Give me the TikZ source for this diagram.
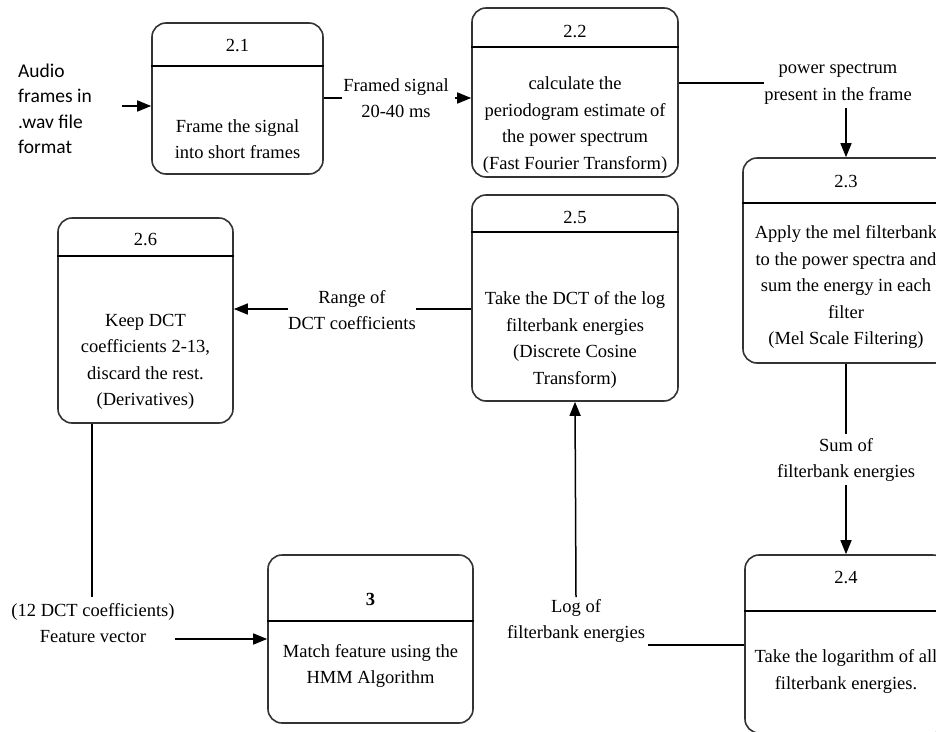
\documentclass[tikz,border=0pt]{standalone}
\usepackage{fontspec}
\setmainfont{Liberation Serif}
\newfontfamily\audiofont{Carlito}
\usetikzlibrary{arrows.meta}
\tikzset{
  procbox/.style={draw=black!80, line width=1.6pt, rounded corners=14pt, inner sep=0pt, fill=white},
  divider/.style={draw=black, line width=1.4pt},
  txt/.style={font=\fontsize{18.5}{26.5}\selectfont, align=center, inner sep=0pt},
  flow/.style={draw=black, line width=1.5pt},
  arr/.style={flow, -{Triangle[length=14pt,width=11pt]}},
}
\begin{document}
\begin{tikzpicture}[x=1pt,y=-1pt]
\useasboundingbox (0,0) rectangle (936,731);
\clip (0,0) rectangle (936,731);
\fill[white] (0,0) rectangle (936,731);

% process boxes
\node[procbox, minimum width=171pt, minimum height=151pt] (b21) at (237.5,98.5) {};
\node[procbox, minimum width=206pt, minimum height=169pt] (b22) at (575,92.5) {};
\node[procbox, minimum width=206pt, minimum height=205pt] (b23) at (846,260.5) {};
\node[procbox, minimum width=202pt, minimum height=178pt] (b24) at (846,644) {};
\node[procbox, minimum width=206pt, minimum height=206pt] (b25) at (575,298) {};
\node[procbox, minimum width=175pt, minimum height=205pt] (b26) at (145.5,320.5) {};
\node[procbox, minimum width=205pt, minimum height=168pt] (b3) at (370.5,639) {};

% dividers
\draw[divider] (b21.west |- 0,66) -- (b21.east |- 0,66);
\draw[divider] (b22.west |- 0,47) -- (b22.east |- 0,47);
\draw[divider] (b23.west |- 0,203) -- (b23.east |- 0,203);
\draw[divider] (b24.west |- 0,611) -- (b24.east |- 0,611);
\draw[divider] (b25.west |- 0,232) -- (b25.east |- 0,232);
\draw[divider] (b26.west |- 0,256) -- (b26.east |- 0,256);
\draw[divider] (b3.west |- 0,621) -- (b3.east |- 0,621);

% numbers
\node[txt] (n21) at (237.5,46) {2.1};
\node[txt] (n22) at (575,32) {2.2};
\node[txt] (n23) at (846,182) {2.3};
\node[txt] (n24) at (846,577) {2.4};
\node[txt] (n25) at (575,218) {2.5};
\node[txt] (n26) at (145.5,240) {2.6};
\node[txt, font=\fontsize{18.5}{26.5}\selectfont\bfseries] (n3) at (370.5,599) {3};

% bodies
\node[txt] (t21) at (237.5,139) {Frame the signal\\into short frames};
\node[txt] (t22) at (575,125) {calculate the\\periodogram estimate of\\the power spectrum\\(Fast Fourier Transform)};
\node[txt] (t23) at (846,287) {Apply the mel filterbank\\to the power spectra and\\sum the energy in each\\filter\\(Mel Scale Filtering)};
\node[txt] (t24) at (846,671.5) {Take the logarithm of all\\filterbank energies.};
\node[txt] (t25) at (575,340) {Take the DCT of the log\\filterbank energies\\(Discrete Cosine\\Transform)};
\node[txt] (t26) at (145.5,362) {Keep DCT\\coefficients 2-13,\\discard the rest.\\(Derivatives)};
\node[txt] (t3) at (370.5,666) {Match feature using the\\HMM Algorithm};

% input
\node[font=\audiofont\fontsize{19.5}{25.5}\selectfont, align=left, anchor=west, inner sep=0pt] (audio) at (18,109) {Audio\\frames in\\.wav file\\format};
\coordinate (ain) at (122,106);
\draw[arr] (ain) -- (ain -| b21.west);

% flow labels
\node[txt] (fs) at (396,98) {Framed signal\\20-40 ms};
\node[txt] (ps) at (838,84) {power spectrum\\present in the frame};
\node[txt] (sum) at (846,460) {Sum of\\filterbank energies};
\node[txt] (lg) at (576,621) {Log of\\filterbank energies};
\node[txt] (rg) at (352,310) {Range of\\DCT coefficients};
\node[txt] (fv) at (93,623) {(12 DCT coefficients)\\Feature vector};

% connectors
\draw[flow] (b21.east |- fs) -- ([xshift=-1pt]fs.west);
\draw[arr] ([xshift=6pt]fs.east) -- (fs -| b22.west);

\draw[flow] (b22.east |- 0,83) -- (ps.west |- 0,83);
\draw[arr] ([yshift=-3pt]ps.south -| b23.north) -- (b23.north);

\draw[flow] (b23.south) -- ([yshift=4pt]sum.north);
\draw[arr] ([yshift=-3pt]sum.south) -- (b24.north);

\draw[flow] (b24.west |- 0,645) -- ([xshift=3pt]lg.east |- 0,645);
\draw[arr] ([yshift=2pt]lg.north) -- (b25.south);

\draw[flow] (b25.west |- 0,309) -- (rg.east |- 0,309);
\draw[arr] (rg.west |- 0,309) -- (b26.east |- 0,309);

\coordinate (fvx) at (92,0);
\draw[flow] (b26.south -| fvx) -- ([yshift=6pt]fv.north -| fvx);
\draw[arr] (fv.east |- b3.west) -- (b3.west);
\end{tikzpicture}
\end{document}
